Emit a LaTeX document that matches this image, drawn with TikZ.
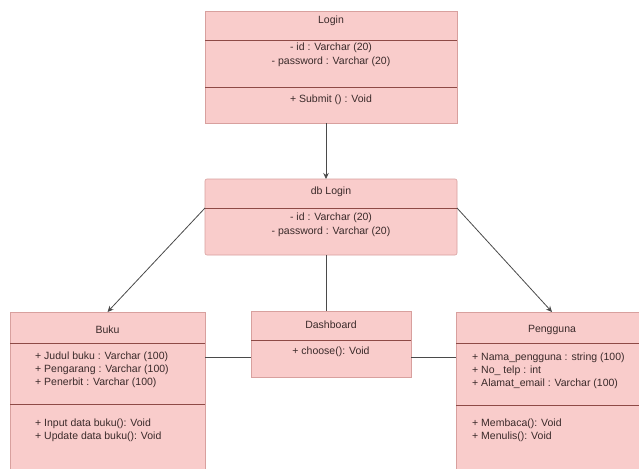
\documentclass[tikz,border=0pt]{standalone}
\usepackage{fontspec}
\setmainfont{Liberation Sans}
\usetikzlibrary{arrows.meta}
\definecolor{clsfill}{HTML}{F9CCCB}
\definecolor{clsdraw}{HTML}{D8A09E}
\definecolor{divcol}{HTML}{8E4A46}
\definecolor{txtcol}{HTML}{3A2A2A}
\definecolor{linecol}{HTML}{4A4A4A}
\tikzset{
  cls/.style={draw=clsdraw, fill=clsfill, line width=0.6pt, anchor=north west, inner sep=0pt, outer sep=0pt},
  divline/.style={draw=divcol, line width=0.9pt},
  ttl/.style={font=\fontsize{10.5}{12}\selectfont, text=txtcol, inner sep=0pt},
  mem/.style={font=\fontsize{10.5}{12}\selectfont, text=txtcol, inner sep=0pt, anchor=west},
  cen/.style={font=\fontsize{10.5}{12}\selectfont, text=txtcol, inner sep=0pt},
  conn/.style={draw=linecol, line width=0.8pt},
  arr/.style={conn, -{Stealth[length=6pt,width=5.5pt]}}
}
\begin{document}
\begin{tikzpicture}[x=1pt,y=-1pt]
\useasboundingbox (0,0) rectangle (639,468);
\fill[white] (0,0) rectangle (639,468);

% Login
\node[cls, minimum width=252pt, minimum height=112pt] (login) at (205,11) {};
\draw[divline] (205,40) -- (457,40);
\draw[divline] (205,87) -- (457,87);
\node[ttl] (loginT) at (331,21) {Login};
\node[cen] (loginA1) at (331,48) {- id : Varchar (20)};
\node[cen] (loginA2) at (331,62) {- password : Varchar (20)};
\node[cen] (loginM1) at (331,100) {+ Submit () : Void};

% db Login
\node[cls, rounded corners=2pt, minimum width=252pt, minimum height=76pt] (dblogin) at (205,179) {};
\coordinate (dbdiv) at (331,208);
\draw[divline] (dblogin.west |- dbdiv) -- (dblogin.east |- dbdiv);
\node[ttl] (dbT) at (331,192) {db Login};
\node[cen] (dbA1) at (331,218) {- id : Varchar (20)};
\node[cen] (dbA2) at (331,232) {- password : Varchar (20)};

% Buku
\node[cls, minimum width=195pt, minimum height=170pt] (buku) at (10,312) {};
\draw[divline] (10,343) -- (205,343);
\draw[divline] (10,404) -- (205,404);
\node[ttl] (bukuT) at (107.5,330) {Buku};
\node[mem] (bukuA1) at (35,357) {+ Judul buku : Varchar (100)};
\node[mem] (bukuA2) at (35,370) {+ Pengarang : Varchar (100)};
\node[mem] (bukuA3) at (35,383) {+ Penerbit : Varchar (100)};
\node[mem] (bukuM1) at (35,424) {+ Input data buku(): Void};
\node[mem] (bukuM2) at (35,437) {+ Update data buku(): Void};

% Dashboard
\node[cls, minimum width=160pt, minimum height=66pt] (dash) at (251,311) {};
\draw[divline] (251,340) -- (411,340);
\node[ttl] (dashT) at (331,325) {Dashboard};
\node[cen] (dashM1) at (331,352) {+ choose(): Void};

% Pengguna
\node[cls, minimum width=192pt, minimum height=170pt] (pengguna) at (456,312) {};
\draw[divline] (456,343) -- (648,343);
\draw[divline] (456,405) -- (648,405);
\node[ttl] (pengT) at (552,330) {Pengguna};
\node[mem] (pengA1) at (472,358) {+ Nama\_pengguna : string (100)};
\node[mem] (pengA2) at (472,371) {+ No\_ telp : int};
\node[mem] (pengA3) at (472,384) {+ Alamat\_email : Varchar (100)};
\node[mem] (pengM1) at (472,424) {+ Membaca(): Void};
\node[mem] (pengM2) at (472,437) {+ Menulis(): Void};

% connectors
\draw[arr] ([xshift=-5pt]login.south) -- ([xshift=-5pt]dblogin.north);
\draw[conn] ([xshift=-5pt]dblogin.south) -- ([xshift=-5pt]dash.north);
\draw[arr] (dblogin.west |- dbdiv) -- (buku.north);
\draw[arr] (dblogin.east |- dbdiv) -- (pengguna.north);
\coordinate (hline) at (331,357);
\draw[conn] (buku.east |- hline) -- (dash.west |- hline);
\draw[conn] (dash.east |- hline) -- (pengguna.west |- hline);
\end{tikzpicture}
\end{document}
